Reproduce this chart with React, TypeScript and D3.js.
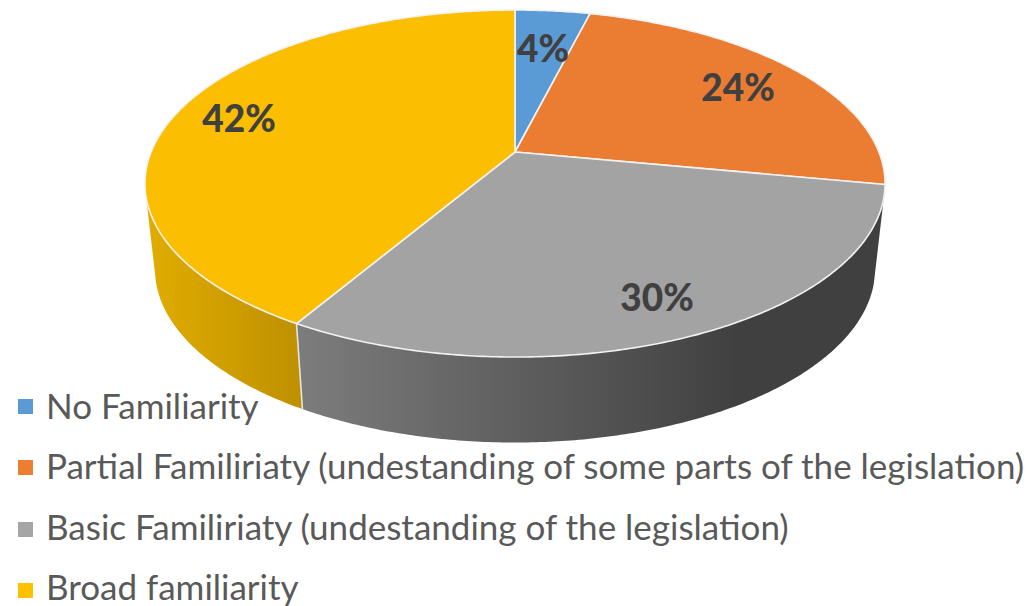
import React from 'react';
import * as d3 from 'd3';

const categories = [
  'No Familiarity',
  'Partial Familiriaty (undestanding of some parts of the legislation)',
  'Basic Familiriaty (undestanding of the legislation)',
  'Broad familiarity',
];
const values = [3.9, 24.1, 30.45, 41.55];
const colors = ['#5B9BD5', '#ED7D31', '#A5A5A5', '#FFC000'];
const topColors = ['#5B9BD5', '#EB7D33', '#A3A3A3', '#FBBE00'];
const labelPos: [number, number][] = [[543, 62], [738, 101], [657, 311], [239, 132]];
const legendBaselines = [419, 479, 540, 600];
const markerTops = [399, 460, 522, 583];

const width = 1030;
const height = 606;
const cx = 515;

// tilted disc: perspective projection of the pie's unit circle
const R = 363.9;
const persp = -0.1816;
const tiltA = 140.2;
const tiltB = 152;
const depth = 85.5;
const shrink = 0.973;

const project = (t: number): [number, number] => {
  const u = Math.sin(t);
  const v = -Math.cos(t);
  const den = 1 + persp * v;
  return [cx + (R * u) / den, (tiltA * v + tiltB) / den];
};
const projectBottom = (t: number): [number, number] => {
  const [x, y] = project(t);
  return [cx + (x - cx) * shrink, y + depth];
};
const center: [number, number] = [cx, tiltB];

const arcPoints = (fn: (t: number) => [number, number], a0: number, a1: number) => {
  const n = Math.max(2, Math.ceil(Math.abs(a1 - a0) / 0.01));
  return d3.range(n + 1).map(i => fn(a0 + ((a1 - a0) * i) / n));
};

const line = d3.line();
const deg = Math.PI / 180;
const sideStart = 105 * deg;
const sideEnd = 255 * deg;

const App: React.FC = () => {
  const arcs = d3.pie<number>().sort(null)(values);

  return (
    <svg width={width} height={height} style={{ position: 'absolute', left: 0, top: 0, fontFamily: 'Lato, Carlito, sans-serif' }}>
      <defs>
        <linearGradient id="sideGray" gradientUnits="userSpaceOnUse" x1={300} x2={740} y1={0} y2={0}>
          <stop offset="0" stopColor="#7C7C7C" />
          <stop offset="1" stopColor="#404040" />
        </linearGradient>
        <linearGradient id="sideYellow" gradientUnits="userSpaceOnUse" x1={150} x2={300} y1={0} y2={0}>
          <stop offset="0" stopColor="#E0AC00" />
          <stop offset="1" stopColor="#BF9000" />
        </linearGradient>
      </defs>

      {/* Side wall */}
      {arcs.map((a, i) => {
        const a0 = Math.max(a.startAngle, sideStart);
        const a1 = Math.min(a.endAngle, sideEnd);
        if (a1 <= a0) return null;
        const pts = [...arcPoints(project, a0, a1), ...arcPoints(projectBottom, a1, a0)];
        return (
          <path
            key={categories[i]}
            d={`${line(pts)}Z`}
            fill={i === 3 ? 'url(#sideYellow)' : i === 2 ? 'url(#sideGray)' : colors[i]}
          />
        );
      })}
      <path
        d={line([project(arcs[3].startAngle), projectBottom(arcs[3].startAngle)]) || ''}
        stroke="#E4E4E4"
        strokeWidth={1.6}
        fill="none"
      />

      {/* Top face */}
      {arcs.map((a, i) => (
        <path
          key={categories[i]}
          d={`${line([center, ...arcPoints(project, a.startAngle, a.endAngle)])}Z`}
          fill={topColors[i]}
          stroke="#F2F2F2"
          strokeWidth={1.6}
          strokeLinejoin="round"
        />
      ))}

      {/* Value labels */}
      {arcs.map((a, i) => (
        <text
          key={categories[i]}
          x={labelPos[i][0]}
          y={labelPos[i][1]}
          textAnchor="middle"
          fontSize={37}
          fontWeight={900}
          fill="#404040"
        >
          {Math.round(a.value)}%
        </text>
      ))}

      {/* Legend */}
      {categories.map((c, i) => (
        <g key={c}>
          <rect x={18} y={markerTops[i]} width={15} height={15} fill={colors[i]} />
          <text x={46} y={legendBaselines[i]} fontSize={35} fill="#595959">
            {c}
          </text>
        </g>
      ))}
    </svg>
  );
};

export default App;
